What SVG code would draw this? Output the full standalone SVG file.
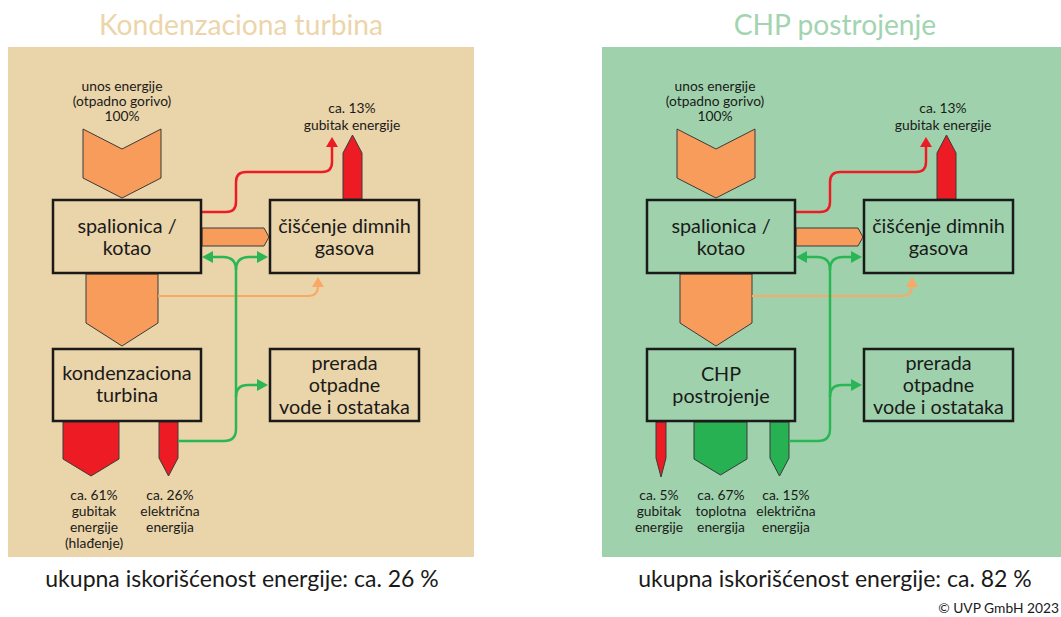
<svg xmlns="http://www.w3.org/2000/svg" width="1061" height="617" viewBox="0 0 1061 617">
  <defs>
    <style>
      text { font-family: Lato, "Open Sans", "Noto Sans", sans-serif; fill: #1a1a1a; text-anchor: middle; }
      .title { font-size: 28.2px; }
      .title-cond { fill: #ecd5aa; }
      .title-chp { fill: #a2d4b0; }
      .box { stroke: #1a1a1a; stroke-width: 2.5; }
      .box-text { font-size: 19.8px; }
      .small { font-size: 13.8px; }
      .total { font-size: 23px; }
      .copy { font-size: 13.8px; text-anchor: end; }
      .flow { stroke: #3a3a3a; stroke-width: 1; stroke-linejoin: miter; }
      .orange { fill: #f79c5b; }
      .red { fill: #ed1c24; }
      .green { fill: #27b153; }
      .line { fill: none; stroke-width: 2.5; }
      .line-red { stroke: #ed1c24; }
      .line-green { stroke: #2bb656; }
      .line-orange { stroke: #f9a865; stroke-width: 2; }
      .head-red { fill: #ed1c24; }
      .head-green { fill: #2bb656; }
      .head-orange { fill: #f9a865; }
    </style>
  </defs>

  <!-- ===== Condensing turbine plant ===== -->
  <g id="panel-condensing">
    <rect x="8" y="47" width="466" height="510" fill="#ead4a9"/>
    <text class="title title-cond" x="241" y="35">Kondenzaciona turbina</text>

    <g id="cond-connectors">
      <!-- energy input -->
      <polygon class="flow orange" points="83,129 122,149 161,129 161,178 122,198 83,178"/>
      <!-- boiler to flue gas cleaning -->
      <polygon class="flow orange" points="202,228 264,228 269,237 264,246 202,246"/>
      <!-- boiler to turbine -->
      <polygon class="flow orange" points="86,274 158,274 158,323 122,346 86,323"/>
      <!-- flue gas loss -->
      <polygon class="flow red" points="343,199 343,153 352.5,135 362,153 362,199"/>
      <!-- turbine outputs -->
      <polygon class="flow red" points="63,422 119,422 119,459 91,476 63,459"/>
      <polygon class="flow red" points="159,422 178,422 178,458 168.5,476 159,458"/>

      <!-- heat loss line -->
      <path class="line line-red" d="M202,212 H226 Q236,212 236,202 V182 Q236,172 246,172 H322 Q332,172 332,162 V146"/>
      <polygon class="head-red" points="326,147 332,137 338,147"/>

      <!-- residual heat line -->
      <path class="line line-orange" d="M158,296 H308 Q318,296 318,286"/>
      <polygon class="head-orange" points="312,287 318,277 324,287"/>

      <!-- electricity distribution -->
      <path class="line line-green" d="M178,441 H224 Q236,441 236,429 V270 Q236,257 223,257 H211"/>
      <path class="line line-green" d="M236,270 Q236,257 249,257 H259"/>
      <path class="line line-green" d="M236,397 Q236,385 248,385 H259"/>
      <polygon class="head-green" points="213,251 202,257 213,263"/>
      <polygon class="head-green" points="257,251 268,257 257,263"/>
      <polygon class="head-green" points="257,379 268,385 257,391"/>
    </g>

    <g id="cond-incinerator">
      <rect class="box" x="53" y="200" width="148" height="73" fill="#ead4a9"/>
      <text class="box-text" x="127" y="233">spalionica /</text>
      <text class="box-text" x="127" y="255">kotao</text>
    </g>
    <g id="cond-fluegas">
      <rect class="box" x="270" y="200" width="149" height="73" fill="#ead4a9"/>
      <text class="box-text" x="344.5" y="233">čišćenje dimnih</text>
      <text class="box-text" x="344.5" y="255">gasova</text>
    </g>
    <g id="cond-turbine">
      <rect class="box" x="53" y="349" width="148" height="72" fill="#ead4a9"/>
      <text class="box-text" x="127" y="380">kondenzaciona</text>
      <text class="box-text" x="127" y="402">turbina</text>
    </g>
    <g id="cond-wastewater">
      <rect class="box" x="270" y="349" width="149" height="72" fill="#ead4a9"/>
      <text class="box-text" x="344.5" y="369.5">prerada</text>
      <text class="box-text" x="344.5" y="391.5">otpadne</text>
      <text class="box-text" x="344.5" y="413.5">vode i ostataka</text>
    </g>

    <g id="cond-labels">
      <text class="small" x="122" y="90.5">unos energije</text>
      <text class="small" x="122" y="105.5">(otpadno gorivo)</text>
      <text class="small" x="122" y="120.5">100%</text>
      <text class="small" x="352" y="113">ca. 13%</text>
      <text class="small" x="352" y="129.5">gubitak energije</text>
      <text class="small" x="94" y="500">ca. 61%</text>
      <text class="small" x="94" y="516">gubitak</text>
      <text class="small" x="94" y="532">energije</text>
      <text class="small" x="94" y="548">(hlađenje)</text>
      <text class="small" x="170" y="500">ca. 26%</text>
      <text class="small" x="170" y="516">električna</text>
      <text class="small" x="170" y="532">energija</text>
    </g>
    <text class="total" x="242" y="587">ukupna iskorišćenost energije: ca. 26 %</text>
  </g>

  <!-- ===== CHP plant ===== -->
  <g id="panel-chp">
    <rect x="602" y="47" width="459" height="510" fill="#9fd2ac"/>
    <text class="title title-chp" x="835" y="35">CHP postrojenje</text>

    <g transform="translate(594,0)">
      <g id="chp-connectors">
        <polygon class="flow orange" points="83,129 122,149 161,129 161,178 122,198 83,178"/>
        <polygon class="flow orange" points="202,228 264,228 269,237 264,246 202,246"/>
        <polygon class="flow orange" points="86,274 158,274 158,323 122,346 86,323"/>
        <polygon class="flow red" points="343,199 343,153 352.5,135 362,153 362,199"/>
        <!-- CHP outputs -->
        <polygon class="flow red" points="62,422 72,422 72,458 67,477 62,458"/>
        <polygon class="flow green" points="100,422 153,422 153,459 126.5,475 100,459"/>
        <polygon class="flow green" points="176,422 195,422 195,458 185.5,476 176,458"/>

        <path class="line line-red" d="M202,212 H226 Q236,212 236,202 V182 Q236,172 246,172 H322 Q332,172 332,162 V146"/>
        <polygon class="head-red" points="326,147 332,137 338,147"/>

        <path class="line line-orange" d="M158,296 H308 Q318,296 318,286"/>
        <polygon class="head-orange" points="312,287 318,277 324,287"/>

        <path class="line line-green" d="M195,441 H224 Q236,441 236,429 V270 Q236,257 223,257 H211"/>
        <path class="line line-green" d="M236,270 Q236,257 249,257 H259"/>
        <path class="line line-green" d="M236,397 Q236,385 248,385 H259"/>
        <polygon class="head-green" points="213,251 202,257 213,263"/>
        <polygon class="head-green" points="257,251 268,257 257,263"/>
        <polygon class="head-green" points="257,379 268,385 257,391"/>
      </g>

      <g id="chp-incinerator">
        <rect class="box" x="53" y="200" width="148" height="73" fill="#9fd2ac"/>
        <text class="box-text" x="127" y="233">spalionica /</text>
        <text class="box-text" x="127" y="255">kotao</text>
      </g>
      <g id="chp-fluegas">
        <rect class="box" x="270" y="200" width="149" height="73" fill="#9fd2ac"/>
        <text class="box-text" x="344.5" y="233">čišćenje dimnih</text>
        <text class="box-text" x="344.5" y="255">gasova</text>
      </g>
      <g id="chp-unit">
        <rect class="box" x="53" y="349" width="148" height="72" fill="#9fd2ac"/>
        <text class="box-text" x="127" y="381">CHP</text>
        <text class="box-text" x="127" y="403">postrojenje</text>
      </g>
      <g id="chp-wastewater">
        <rect class="box" x="270" y="349" width="149" height="72" fill="#9fd2ac"/>
        <text class="box-text" x="344.5" y="369.5">prerada</text>
        <text class="box-text" x="344.5" y="391.5">otpadne</text>
        <text class="box-text" x="344.5" y="413.5">vode i ostataka</text>
      </g>

      <g id="chp-labels">
        <text class="small" x="121" y="90.5">unos energije</text>
        <text class="small" x="121" y="105.5">(otpadno gorivo)</text>
        <text class="small" x="121" y="120.5">100%</text>
        <text class="small" x="349" y="113">ca. 13%</text>
        <text class="small" x="349" y="129.5">gubitak energije</text>
        <text class="small" x="65" y="500">ca. 5%</text>
        <text class="small" x="65" y="516">gubitak</text>
        <text class="small" x="65" y="532">energije</text>
        <text class="small" x="127" y="500">ca. 67%</text>
        <text class="small" x="127" y="516">toplotna</text>
        <text class="small" x="127" y="532">energija</text>
        <text class="small" x="192" y="500">ca. 15%</text>
        <text class="small" x="192" y="516">električna</text>
        <text class="small" x="192" y="532">energija</text>
      </g>
    </g>
    <text class="total" x="835" y="587">ukupna iskorišćenost energije: ca. 82 %</text>
    <text class="copy" x="1059" y="613">© UVP GmbH 2023</text>
  </g>
</svg>
